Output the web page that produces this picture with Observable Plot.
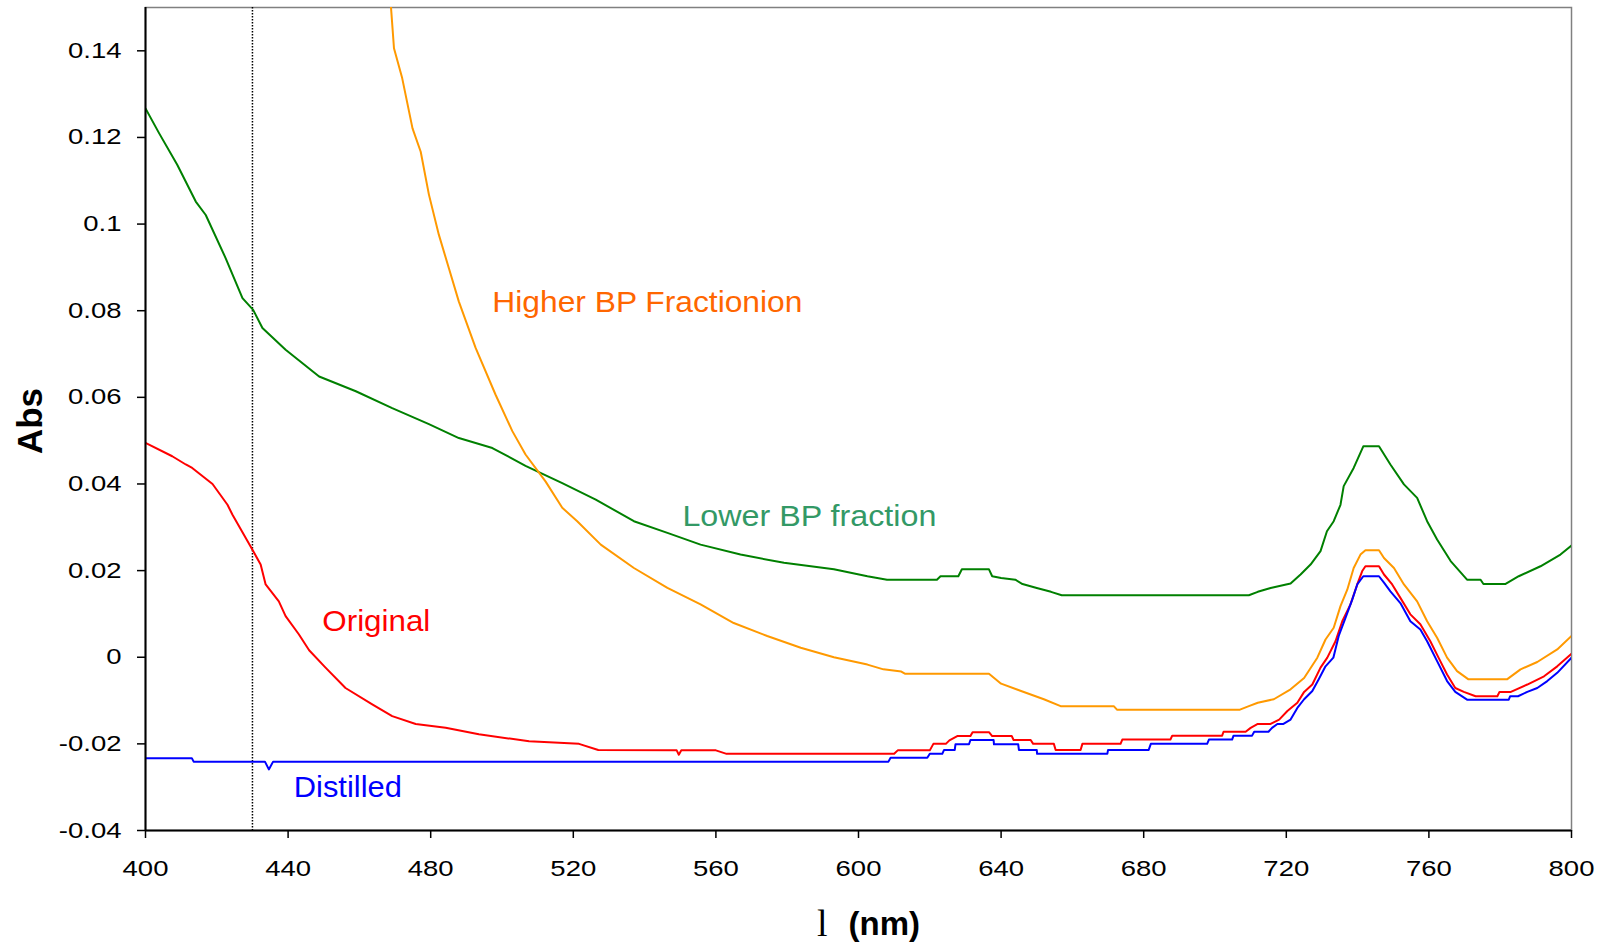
<!DOCTYPE html>
<html><head><meta charset="utf-8">
<script src="https://cdn.jsdelivr.net/npm/d3@7"></script>
<script src="https://cdn.jsdelivr.net/npm/@observablehq/plot@0.6"></script>
<style>
body{margin:0;background:#fff;}
svg{display:block;}
</style>
</head><body><div id="chart"></div>
<script>
// Wavelength (nm), absorbance pairs
const higherBP = [
  [468.6,0.153],[469.7,0.1406],[472,0.1337],[474.9,0.1221],[477.2,0.1167],[479.5,0.1068],
  [482.3,0.0975],[485.1,0.0898],[487.9,0.0821],[492.6,0.0714],[498.2,0.0606],[502.9,0.0522],
  [506.6,0.0468],[512.2,0.0406],[516.9,0.0345],[521.1,0.0314],[527.7,0.026],[537,0.0206],
  [546.4,0.016],[555.7,0.0122],[565,0.0079],[574.4,0.0049],[583.8,0.0022],[593.1,0.0],
  [602.5,-0.0017],[607,-0.0028],[612,-0.0033],[613,-0.0038],[636.6,-0.0038],[640,-0.0061],
  [645.6,-0.0078],[652,-0.0097],[656.7,-0.0113],[671.6,-0.0113],[672.5,-0.0121],[707,-0.0121],
  [709.5,-0.0113],[712,-0.0105],[716.5,-0.0097],[721.2,-0.0074],[725,-0.0048],[728.7,-0.0001],
  [731,0.0041],[733.3,0.0068],[735.2,0.0118],[737.1,0.0156],[738.9,0.0206],[740.8,0.0237],
  [742.2,0.0247],[746,0.0247],[747.4,0.0229],[750.2,0.0206],[753,0.0168],[756.7,0.0129],
  [759.5,0.0083],[762.3,0.0045],[765.1,-0.0001],[767.9,-0.0032],[771.1,-0.0051],[781.9,-0.0051],
  [785.7,-0.0028],[790.4,-0.0011],[796,0.0018],[800,0.0049]
];
const lowerBP = [
  [400,0.1267],[403.8,0.121],[408.9,0.1137],[414.1,0.1052],[416.9,0.1021],[422.5,0.0921],
  [427.2,0.0829],[430.2,0.0802],[432.8,0.076],[439.3,0.071],[448.7,0.0648],[459,0.0614],
  [469.2,0.0575],[479.5,0.0538],[487.9,0.0506],[497.3,0.0483],[506.6,0.0442],[516.9,0.0402],
  [526.3,0.0364],[537,0.0314],[546.4,0.0287],[555.7,0.026],[566.9,0.0237],[579.1,0.0218],
  [593.1,0.0203],[602.5,0.0187],[608,0.0179],[622,0.0179],[623,0.0187],[628,0.0187],
  [629,0.0203],[636.6,0.0203],[637.5,0.0187],[640,0.0183],[644,0.0179],[646,0.0169],
  [650,0.016],[654,0.0151],[657,0.0143],[709.5,0.0143],[712,0.0151],[715.6,0.016],
  [721.2,0.017],[724,0.0191],[726.8,0.0214],[729.6,0.0245],[731.4,0.0291],[733.3,0.0314],
  [735.2,0.0352],[736.1,0.0395],[738.9,0.0437],[741.6,0.0487],[746,0.0487],[749.2,0.0445],
  [753,0.0399],[756.7,0.0368],[759.5,0.0314],[762.3,0.0272],[766.1,0.0222],[770.7,0.0179],
  [774.5,0.0179],[775.3,0.0169],[781.4,0.0169],[785.2,0.0187],[791.3,0.021],[796.9,0.0237],
  [800,0.0258]
];
const original = [
  [400,0.0495],[407.5,0.0464],[411.3,0.0445],[413.1,0.0437],[418.8,0.04],[423,0.0352],
  [424.4,0.0329],[430.2,0.0245],[432.3,0.0214],[433.7,0.0168],[437.4,0.0129],[439.3,0.0095],
  [443,0.0053],[445.9,0.0016],[450.5,-0.0024],[456.1,-0.0071],[463.6,-0.0109],[469.2,-0.0136],
  [475.8,-0.0154],[484.2,-0.0163],[493.5,-0.0178],[507.6,-0.0194],[521.6,-0.02],[527,-0.0214],
  [549,-0.0215],[549.6,-0.0225],[550.3,-0.0215],[560,-0.0215],[563,-0.0223],[610,-0.0223],
  [611,-0.0215],[620,-0.0215],[621,-0.02],[624.5,-0.02],[625.5,-0.0192],[627.7,-0.0182],
  [631.4,-0.0182],[632,-0.0173],[636.6,-0.0173],[637.5,-0.0182],[643,-0.0182],[643.5,-0.0191],
  [648.3,-0.0191],[649,-0.02],[654.8,-0.02],[655.3,-0.0214],[662.3,-0.0214],[662.8,-0.02],
  [673.5,-0.02],[674,-0.019],[687.5,-0.019],[688,-0.0181],[702,-0.0181],[702.4,-0.0172],
  [708.6,-0.0172],[710,-0.0163],[712,-0.0154],[715.6,-0.0154],[718,-0.0144],[720.3,-0.0124],
  [723.1,-0.0105],[725,-0.008],[727.3,-0.0063],[729.6,-0.0024],[731.5,-0.0001],[733.8,0.0037],
  [735.7,0.0083],[738,0.0122],[739.9,0.0168],[741.3,0.0199],[742.2,0.021],[746,0.021],
  [747.4,0.0191],[749.7,0.0168],[752,0.0137],[754.8,0.0099],[757.6,0.0076],[760.4,0.0037],
  [762.7,-0.0001],[765.1,-0.004],[767.4,-0.0071],[769.8,-0.008],[773.1,-0.009],[779.2,-0.009],
  [779.8,-0.008],[783,-0.008],[787.6,-0.0063],[792.3,-0.0044],[796,-0.0021],[800,0.0008]
];
const distilled = [
  [400,-0.0233],[413,-0.0233],[413.5,-0.0241],[433.5,-0.0241],[434.6,-0.0259],[435.8,-0.0241],
  [608.4,-0.0241],[609,-0.0232],[619.3,-0.0232],[620,-0.0223],[623.5,-0.0223],[624,-0.0214],
  [627,-0.0214],[627.2,-0.0201],[631,-0.0201],[631.4,-0.0191],[637.9,-0.0191],[638,-0.0201],
  [644.8,-0.0201],[645,-0.0214],[650,-0.0214],[650.1,-0.0223],[669.8,-0.0223],[670,-0.0214],
  [681.4,-0.0214],[682,-0.02],[697.8,-0.02],[698.3,-0.019],[704.8,-0.019],[705.2,-0.0181],
  [710.4,-0.0181],[711,-0.0172],[715,-0.0172],[716,-0.0163],[717.5,-0.0154],[719.2,-0.0154],
  [721.2,-0.0144],[723.1,-0.0117],[725,-0.0097],[727.3,-0.0078],[729.1,-0.0051],[731,-0.0021],
  [733.2,-0.0001],[734.7,0.0049],[736.6,0.0091],[738.5,0.0133],[739.9,0.0168],[741.6,0.0187],
  [746,0.0187],[747.4,0.0172],[749.2,0.0152],[752,0.0125],[754.8,0.0083],[757.6,0.0064],
  [759.5,0.0037],[762.3,-0.0009],[765.1,-0.0055],[767.4,-0.008],[770.7,-0.0098],[782.4,-0.0098],
  [782.8,-0.009],[785,-0.009],[787.6,-0.008],[790.4,-0.0071],[793.2,-0.0055],[796,-0.0036],
  [800,-0.0001]
];
const xTicks = [400,440,480,520,560,600,640,680,720,760,800];
const yTicks = [-0.04,-0.02,0,0.02,0.04,0.06,0.08,0.1,0.12,0.14];
const markerWavelength = [430];
const seriesLabels = ["Higher BP Fractionion","Lower BP fraction","Original","Distilled"];

// annotation placement (wavelength, absorbance at baseline start), colors, rendered widths
const labelAnchors = [[497.3,0.0798],[550.6,0.0302],[449.6,0.006],[441.6,-0.0323]];
const labelColors = ["#FF6600","#339966","#FF0000","#0000FF"];
const labelWidths = [310,254,108,108];
const labelRows = seriesLabels.map((t,i)=>({t, x: labelAnchors[i][0], y: labelAnchors[i][1], c: labelColors[i]}));

const lineOpts = (color) => ({x: d=>d[0], y: d=>d[1], stroke: color, strokeWidth: 2, clip: true});

const plot = Plot.plot({
  width: 1610, height: 943,
  marginLeft: 145, marginRight: 39, marginTop: 7, marginBottom: 113,
  style: {fontFamily: "'Liberation Sans', Arial, sans-serif", background: "#fff", color: "#000"},
  x: {domain: [400, 800]},
  y: {domain: [-0.04, 0.15]},
  marks: [
    Plot.frame({stroke: "#808080", strokeWidth: 1.5}),
    Plot.ruleX(markerWavelength, {stroke: "#000", strokeWidth: 1.5, strokeDasharray: "1.5,1.5"}),
    Plot.line(lowerBP, lineOpts("#008000")),
    Plot.line(higherBP, lineOpts("#FF9900")),
    Plot.line(original, lineOpts("#FF0000")),
    Plot.line(distilled, lineOpts("#0000FF")),
    Plot.ruleX([400], {stroke: "#000", strokeWidth: 2}),
    Plot.ruleY([-0.04], {stroke: "#000", strokeWidth: 2}),
    Plot.axisX({ticks: xTicks, tickSize: 8, tickPadding: 22, fontSize: 22, label: null, strokeWidth: 1.5, tickFormat: d => String(d)}),
    Plot.axisY({ticks: yTicks, tickSize: 8, tickPadding: 16, fontSize: 22, label: null, strokeWidth: 1.5, tickFormat: d => String(+d.toFixed(2))}),
    Plot.text(labelRows, {x: "x", y: "y", text: "t", fill: d => d.c, fontSize: 30, textAnchor: "start", lineAnchor: "bottom", className: "series-label"}),
    Plot.text(["Abs"], {text: d => d, frameAnchor: "left", rotate: -90, dx: -103.3, dy: 2, textAnchor: "middle", lineAnchor: "bottom", fontSize: 35, fontWeight: "bold"}),
    Plot.text(["l"], {text: d => d, frameAnchor: "bottom", dx: -31, dy: 105, textAnchor: "end", lineAnchor: "bottom", fontSize: 38, fontFamily: "'Liberation Serif', 'Times New Roman', serif"}),
    Plot.text(["(nm)"], {text: d => d, frameAnchor: "bottom", dx: -10, dy: 104, textAnchor: "start", lineAnchor: "bottom", fontSize: 33, fontWeight: "bold"})
  ]
});

document.getElementById("chart").appendChild(plot);

// The reference's tick labels are horizontally stretched: widen glyphs in place
plot.querySelectorAll('g[aria-label="x-axis tick label"] text, g[aria-label="y-axis tick label"] text').forEach(t => {
  const L = t.getComputedTextLength();
  if (L > 0) {
    t.setAttribute("textLength", (L * 1.25).toFixed(1));
    t.setAttribute("lengthAdjust", "spacingAndGlyphs");
  }
});
// Series labels: match the reference text widths
plot.querySelectorAll('.series-label text').forEach(t => {
  const i = seriesLabels.indexOf(t.textContent);
  if (i >= 0) {
    t.setAttribute("textLength", labelWidths[i]);
    t.setAttribute("lengthAdjust", "spacingAndGlyphs");
  }
});
</script>
</body></html>
